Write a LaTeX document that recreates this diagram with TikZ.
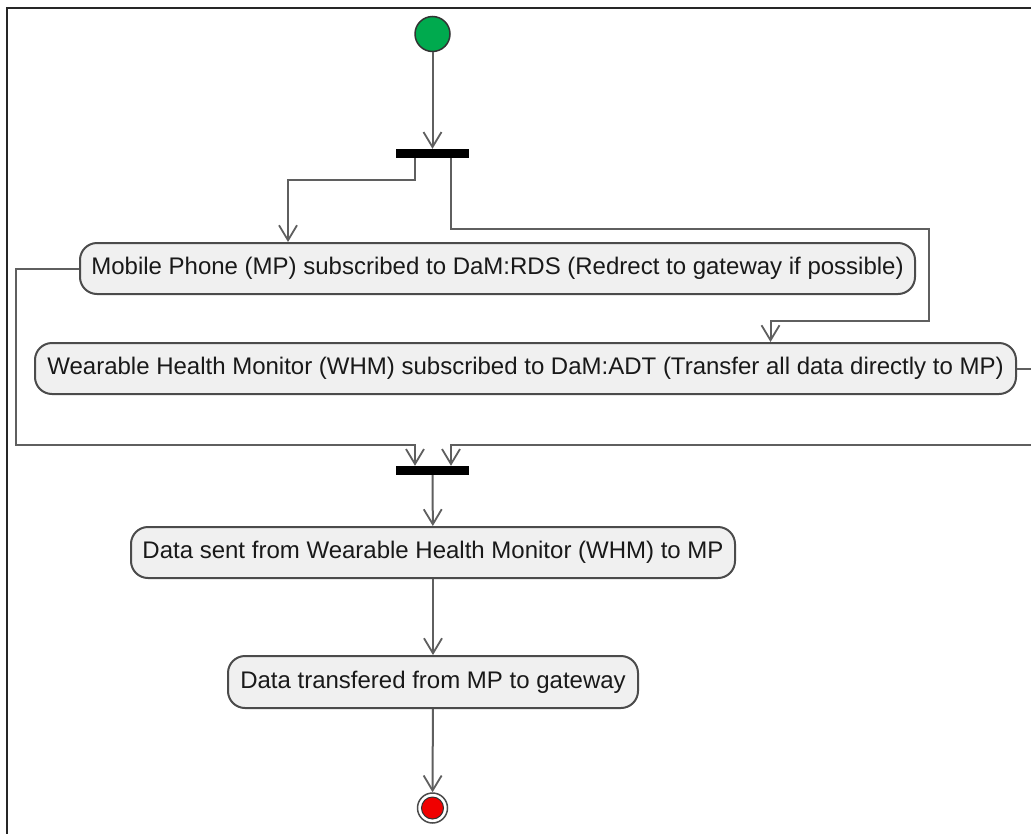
\documentclass[tikz,border=0pt]{standalone}
\usepackage{fontspec}
\setmainfont{Liberation Sans}
\usetikzlibrary{arrows.meta,positioning}
\definecolor{linegray}{RGB}{95,95,95}
\definecolor{boxborder}{RGB}{75,75,75}
\definecolor{boxfill}{RGB}{240,240,240}
\definecolor{startgreen}{RGB}{0,170,78}
\definecolor{endred}{RGB}{240,0,0}
\definecolor{txt}{RGB}{25,25,25}
\tikzset{
  activity/.style={draw=boxborder, line width=2pt, fill=boxfill, rounded corners=17pt,
    inner sep=0pt, text=txt, font=\fontsize{24}{28}\selectfont},
  bar/.style={fill=black, draw=none, minimum width=73pt, minimum height=9pt, inner sep=0pt},
  flow/.style={draw=linegray, line width=2pt,
    -{Straight Barb[length=15pt,width=18pt,line width=1.8pt]}},
  frame/.style={draw=black!85, line width=2pt}
}
\begin{document}
\begin{tikzpicture}[x=1pt,y=-1pt]
\useasboundingbox (0,0) rectangle (1031,833);
\clip (0,0) rectangle (1031,833);
\fill[white] (0,0) rectangle (1031,833);
% outer frame (top and left edges)
\draw[frame] (1040,8) -- (6.5,8) -- (6.5,845);

% start state and synchronisation bars
\node[circle, fill=startgreen, draw=black!80, line width=1.5pt, minimum size=35pt, inner sep=0pt] (start) at (432.5,34) {};
\node[bar] (bar1) at (432.5,153.5) {};
\node[bar] (bar2) at (432.5,470.5) {};

% activities
\node[activity, minimum width=835pt, minimum height=51pt] (mp) at (497.5,268.5)
  {Mobile Phone (MP) subscribed to DaM:RDS (Redrect to gateway if possible)};
\node[activity, minimum width=981pt, minimum height=51pt] (whm) at (525.5,368.5)
  {Wearable Health Monitor (WHM) subscribed to DaM:ADT (Transfer all data directly to MP)};
\node[activity, minimum width=604pt, minimum height=51pt] (sent) at (433,552.5)
  {Data sent from Wearable Health Monitor (WHM) to MP};
\node[activity, minimum width=410pt, minimum height=52pt] (xfer) at (433,682)
  {Data transfered from MP to gateway};

% final state
\node[circle, draw=boxborder, line width=1.5pt, fill=white, minimum size=30pt, inner sep=0pt] (end) at (432.5,808) {};
\node[circle, draw=black!80, line width=1pt, fill=endred, minimum size=22pt, inner sep=0pt] (endcore) at (end.center) {};

% routing waypoints
\coordinate (r1) at (929,229);
\coordinate (r2) at (929,320.5);
\coordinate (l1) at (16,445);
\coordinate (rr1) at (1050,368.5);
\coordinate (rr2) at (1050,445);

% connectors
\draw[flow] (start) -- (bar1);
\draw[flow] ([xshift=-17.5pt]bar1.south) -- ++(0,22) -| ([xshift=-209.5pt]mp.north);
\draw[flow] ([xshift=18.5pt]bar1.south) |- (r1) -- (r2) -| ([xshift=245pt]whm.north);
\draw[flow] (mp.west) -| (l1) -| ([xshift=-17.5pt]bar2.north);
\draw[flow] (whm.east) -- (rr1) -- (rr2) -| ([xshift=18.5pt]bar2.north);
\draw[flow] (bar2) -- (sent);
\draw[flow] (sent) -- (xfer);
\draw[flow] (xfer) -- (end);
\end{tikzpicture}
\end{document}
